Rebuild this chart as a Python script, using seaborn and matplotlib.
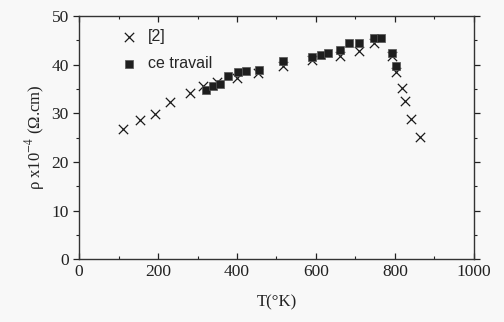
import matplotlib
matplotlib.use("Agg")
import matplotlib.pyplot as plt
import seaborn as sns
import pandas as pd
from matplotlib.ticker import MultipleLocator

# Data
ref_T = [112, 153, 192, 230, 281, 315, 349, 401, 454, 517, 590, 662, 709, 748,
         793, 802, 817, 826, 840, 864]
ref_rho = [26.7, 28.6, 29.9, 32.3, 34.1, 35.6, 36.5, 37.2, 38.4, 39.7, 41.0, 41.8,
           42.9, 44.4, 41.8, 38.6, 35.3, 32.5, 28.8, 25.1]
work_T = [321, 340, 357, 377, 402, 423, 456, 516, 590, 613, 631, 662, 685, 708,
          748, 764, 793, 802]
work_rho = [34.8, 35.6, 36.0, 37.7, 38.6, 38.7, 38.9, 40.8, 41.6, 42.1, 42.5, 43.0,
            44.4, 44.4, 45.4, 45.4, 42.5, 39.7]
labels = ["[2]", "ce travail"]

df = pd.concat([
    pd.DataFrame({"T": ref_T, "rho": ref_rho, "src": labels[0]}),
    pd.DataFrame({"T": work_T, "rho": work_rho, "src": labels[1]}),
])

sns.set_style("ticks")
plt.rcParams["font.family"] = ["Liberation Serif", "DejaVu Serif"]
plt.rcParams["mathtext.fontset"] = "stix"

fig = plt.figure(figsize=(5.04, 3.22), dpi=100)
fig.patch.set_facecolor("#f8f8f8")
ax = fig.add_axes([0.157, 0.195, 0.783, 0.755])
ax.set_facecolor("#f8f8f8")

sns.scatterplot(data=df[df.src == labels[0]], x="T", y="rho", marker="x",
                color="#1a1a1a", s=45, linewidth=0.9, ax=ax, label=labels[0], zorder=3)
sns.scatterplot(data=df[df.src == labels[1]], x="T", y="rho", marker="s",
                color="#1e1e1e", edgecolor="#555555", s=32, linewidth=0.5, ax=ax,
                label=labels[1], zorder=4)

ax.set_xlim(0, 1000)
ax.set_ylim(0, 50)
ax.xaxis.set_major_locator(MultipleLocator(200))
ax.xaxis.set_minor_locator(MultipleLocator(100))
ax.yaxis.set_major_locator(MultipleLocator(10))
ax.yaxis.set_minor_locator(MultipleLocator(5))
ax.tick_params(axis="both", which="both", top=True, right=True, labelsize=12.5,
               colors="#222222")
ax.tick_params(axis="x", which="both", direction="in")
ax.tick_params(axis="y", which="both", direction="out")
ax.tick_params(axis="y", which="both", right=True)
ax.tick_params(which="major", length=4, width=0.9)
ax.tick_params(which="minor", length=2.5, width=0.8)
for s in ax.spines.values():
    s.set_linewidth(1.0)
    s.set_color("#333333")

ax.set_xlabel("T(°K)", fontsize=12, color="#222222", labelpad=10)
ax.set_ylabel(r"ρ x10$^{-4}$ (Ω.cm)", fontsize=12, color="#222222", labelpad=3)

leg = ax.legend(loc="upper left", frameon=False, prop={"family": "Liberation Sans", "size": 11.5},
                handletextpad=0.6, handlelength=1.2, borderaxespad=0.4, labelspacing=0.75,
                bbox_to_anchor=(0.07, 1.0))

fig.savefig("out.png", dpi=100, facecolor=fig.get_facecolor())
